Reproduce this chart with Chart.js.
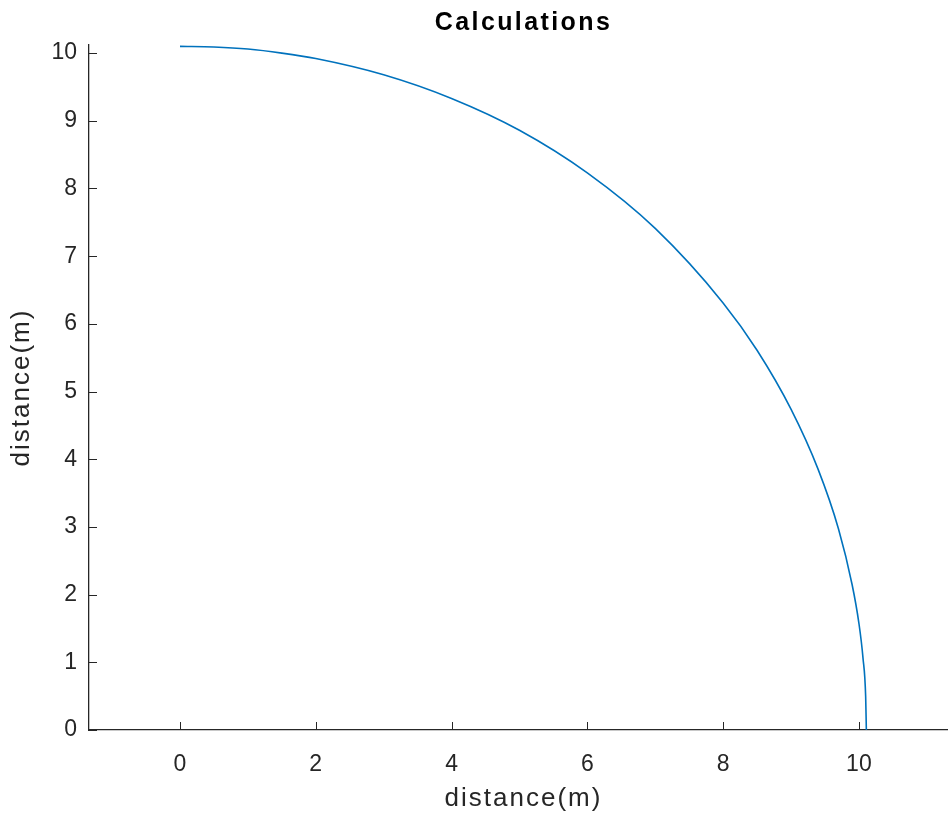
<!DOCTYPE html>
<html>
<head>
<meta charset="utf-8">
<script src="https://cdn.jsdelivr.net/npm/chart.js@4/dist/chart.umd.min.js"></script>
<style>
  html, body { margin: 0; padding: 0; background: #ffffff; overflow: hidden; }
  #wrap { width: 948px; height: 818px; overflow: hidden; }
</style>
</head>
<body>
<div id="wrap"><canvas id="c" width="958" height="818"></canvas></div>
<script>
// Path of the quarter arc (metres)
const xDistance = [0, 0.5, 1, 1.5, 2, 3, 4, 5, 6, 7, 8, 8.5, 9, 9.4, 9.7, 9.9, 10.0, 10.06, 10.1, 10.11];
const yDistance = [10.1, 10.09, 10.06, 10.0, 9.92, 9.68, 9.33, 8.86, 8.23, 7.41, 6.31, 5.61, 4.74, 3.85, 2.97, 2.15, 1.58, 1.07, 0.49, 0];

// Axis ticks and limits (the axes run slightly past the right edge of the window)
const xTicks = [0, 2, 4, 6, 8, 10];
const yTicks = [0, 1, 2, 3, 4, 5, 6, 7, 8, 9, 10];
const xRange = [-1.34, 11.46];
const yRange = [0, 10.12];

const ink = '#262626';
const family = "'Liberation Sans', Arial, Helvetica, sans-serif";

// Draw a function with a temporary letter spacing on the canvas
function withSpacing(ctx, spacing, fn) {
  const prev = ctx.letterSpacing;
  ctx.letterSpacing = spacing;
  try { fn(); } finally { ctx.letterSpacing = prev === undefined ? '0px' : prev; }
}

// Wider tracking for the chart title and the axis titles
const tracking = {
  id: 'tracking',
  afterUpdate(chart) {
    const ctx = chart.ctx;
    ['x', 'y'].forEach(id => {
      const s = chart.scales[id];
      if (s && !s._tracked) {
        const orig = s.drawTitle;
        s.drawTitle = function () { withSpacing(ctx, '2px', () => orig.apply(this, arguments)); };
        s._tracked = true;
      }
    });
    const tb = chart.titleBlock;
    if (tb && !tb._tracked) {
      const orig = tb.draw;
      tb.draw = function () { withSpacing(ctx, '2.4px', () => orig.apply(this, arguments)); };
      tb._tracked = true;
    }
  }
};

// MATLAB-style inward tick marks
const innerTicks = {
  id: 'innerTicks',
  afterDraw(chart) {
    const { ctx, chartArea } = chart;
    const xs = chart.scales.x, ys = chart.scales.y;
    const len = 8;
    ctx.save();
    ctx.strokeStyle = ink;
    ctx.lineWidth = 1;
    ctx.beginPath();
    xs.ticks.forEach(t => {
      const px = Math.round(xs.getPixelForValue(t.value)) + 0.5;
      ctx.moveTo(px, chartArea.bottom);
      ctx.lineTo(px, chartArea.bottom - len);
    });
    ys.ticks.forEach(t => {
      const py = Math.round(ys.getPixelForValue(t.value)) + 0.5;
      ctx.moveTo(chartArea.left, py);
      ctx.lineTo(chartArea.left + len, py);
    });
    ctx.stroke();
    ctx.restore();
  }
};

new Chart(document.getElementById('c'), {
  type: 'scatter',
  data: {
    datasets: [{
      label: 'distance',
      data: xDistance.map((x, i) => ({ x: x, y: yDistance[i] })),
      showLine: true,
      borderColor: '#0072BD',
      borderWidth: 1.6,
      pointRadius: 0,
      fill: false,
      cubicInterpolationMode: 'monotone'
    }]
  },
  options: {
    responsive: false,
    animation: false,
    layout: { padding: 0 },
    plugins: {
      legend: { display: false },
      tooltip: { enabled: false },
      title: {
        display: true,
        fullSize: false,
        text: 'Calculations',
        color: '#000000',
        font: { family: family, size: 25, weight: 'bold' },
        padding: { top: 8, bottom: 7 }
      }
    },
    scales: {
      x: {
        type: 'linear',
        min: xRange[0],
        max: xRange[1],
        afterBuildTicks: s => { s.ticks = xTicks.map(v => ({ value: v })); },
        afterFit: s => { s.height = 88; },
        grid: { display: false, drawTicks: false },
        border: { display: true, color: ink, width: 1.3 },
        ticks: {
          color: ink,
          padding: 21,
          maxRotation: 0,
          font: { family: family, size: 23 }
        },
        title: {
          display: true,
          text: 'distance(m)',
          color: ink,
          font: { family: family, size: 26 },
          padding: { top: 0, bottom: 4 }
        }
      },
      y: {
        type: 'linear',
        min: yRange[0],
        max: yRange[1],
        afterBuildTicks: s => { s.ticks = yTicks.map(v => ({ value: v })); },
        afterFit: s => { s.width = 89; },
        grid: { display: false, drawTicks: false },
        border: { display: true, color: ink, width: 1.3 },
        ticks: {
          color: ink,
          padding: 12,
          font: { family: family, size: 23 }
        },
        title: {
          display: true,
          text: 'distance(m)',
          color: ink,
          font: { family: family, size: 26 },
          padding: { top: 6, bottom: 0 }
        }
      }
    }
  },
  plugins: [tracking, innerTicks]
});
</script>
</body>
</html>
